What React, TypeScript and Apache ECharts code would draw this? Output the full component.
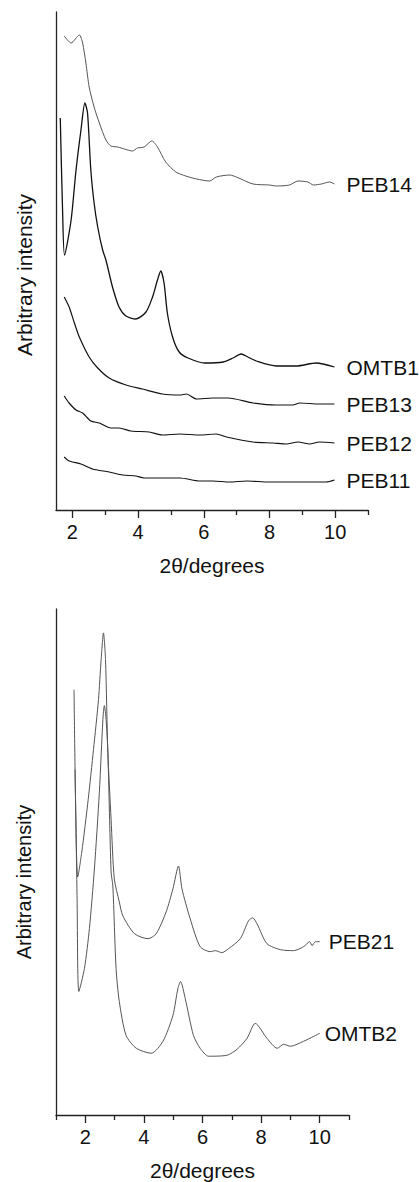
import React, { useEffect, useRef } from "react";
import * as echarts from "echarts";

// ---------- Data (2θ in degrees, arbitrary intensity) ----------
const topMajorTicks = [2, 4, 6, 8, 10];
const topMinorTicks = [3, 5, 7, 9, 11];
const bottomMajorTicks = [2, 4, 6, 8, 10];
const bottomMinorTicks = [1, 3, 5, 7, 9, 11];

const PEB14 = [
  [1.75, 474], [1.96, 467], [2.21, 475], [2.31, 467], [2.41, 447], [2.51, 423], [2.66, 403],
  [2.82, 387], [3.02, 370], [3.17, 364], [3.38, 363], [3.58, 361], [3.83, 359], [3.98, 362],
  [4.18, 363], [4.42, 369], [4.59, 363], [4.84, 348], [5.15, 338], [5.45, 334], [5.78, 331],
  [6.18, 329], [6.38, 333], [6.79, 335], [6.99, 333], [7.5, 326], [8.0, 325], [8.21, 324],
  [8.61, 325], [8.87, 329], [9.17, 328], [9.34, 325], [9.58, 326], [9.83, 328], [9.98, 326],
];
const OMTB1 = [
  [1.63, 392], [1.7, 300], [1.76, 255], [1.96, 290], [2.11, 340], [2.26, 380], [2.38, 407],
  [2.46, 397], [2.56, 340], [2.66, 307], [2.77, 283], [2.92, 260], [3.02, 250], [3.22, 223],
  [3.42, 203], [3.63, 194], [3.93, 191], [4.24, 198], [4.44, 213], [4.59, 230], [4.69, 239],
  [4.79, 227], [4.89, 197], [5.05, 173], [5.25, 158], [5.52, 152], [6.03, 147], [6.59, 148],
  [6.89, 152], [7.14, 156], [7.34, 153], [7.6, 149], [8.21, 144], [8.82, 144], [9.42, 147],
  [9.98, 143],
];
const PEB13 = [
  [1.75, 213], [1.9, 203], [2.06, 187], [2.21, 173], [2.51, 153], [2.77, 142], [3.12, 132],
  [3.63, 125], [4.13, 121], [4.74, 116], [5.27, 115], [5.47, 116], [5.78, 111], [6.28, 112],
  [6.74, 112], [7.5, 107], [8.21, 105], [8.71, 105], [8.92, 107], [9.52, 106], [9.98, 106],
];
const PEB12 = [
  [1.75, 114], [1.9, 107], [2.11, 100], [2.31, 97], [2.56, 89], [2.82, 87], [3.17, 82],
  [3.42, 82], [3.78, 79], [4.34, 78], [4.74, 75], [5.27, 76], [5.88, 75], [6.38, 76],
  [6.69, 73], [7.5, 68], [8.11, 67], [8.51, 66], [8.87, 68], [9.22, 66], [9.52, 68], [9.98, 67],
];
const PEB11 = [
  [1.75, 53], [1.9, 49], [2.26, 46], [2.61, 41], [3.12, 38], [3.53, 35], [3.93, 34],
  [4.18, 32], [4.84, 32], [5.27, 32], [5.88, 29], [6.28, 29], [6.79, 28], [7.3, 29],
  [8.0, 28], [8.61, 28], [9.32, 28], [9.73, 28], [9.98, 30],
];

const PEB21 = [
  [1.615, 427], [1.667, 317], [1.742, 239], [1.88, 264], [2.1, 317], [2.28, 367], [2.45, 417],
  [2.54, 457], [2.62, 484], [2.69, 457], [2.77, 364], [2.88, 297], [2.99, 237], [3.16, 214],
  [3.28, 200], [3.68, 182], [4.14, 177], [4.42, 182], [4.76, 204], [4.99, 227], [5.18, 250],
  [5.3, 227], [5.58, 197], [5.92, 169], [6.26, 164], [6.44, 165], [6.66, 163], [6.89, 167],
  [7.29, 177], [7.57, 195], [7.71, 198], [7.86, 192], [8.2, 172], [8.66, 166], [9.11, 165],
  [9.45, 169], [9.66, 174], [9.74, 170], [9.85, 174], [10.0, 174],
];
const OMTB2 = [
  [1.65, 347], [1.72, 217], [1.78, 124], [1.97, 147], [2.14, 187], [2.31, 247], [2.48, 324],
  [2.6, 397], [2.65, 411], [2.71, 397], [2.77, 364], [2.88, 244], [2.94, 230], [3.05, 147],
  [3.16, 114], [3.39, 80], [3.74, 67], [4.25, 62], [4.65, 74], [4.99, 100], [5.16, 127],
  [5.25, 134], [5.41, 117], [5.69, 80], [5.92, 67], [6.21, 59], [6.84, 60], [7.18, 66],
  [7.52, 77], [7.8, 92], [8.2, 77], [8.55, 67], [8.77, 71], [9.0, 69], [9.45, 74],
  [9.8, 79], [10.0, 82],
];

const Y_NAME = "Arbitrary intensity";
const X_NAME = "2θ/degrees";

const FONT = "Liberation Sans, Arial, sans-serif";
const AXIS_COLOR = "#222";

function xAxisMain(grid: number, min: number, major: number[]) {
  return {
    type: "value",
    gridIndex: grid,
    position: "bottom",
    min,
    max: 11,
    name: X_NAME,
    nameLocation: "middle",
    nameGap: 45,
    nameTextStyle: { fontFamily: FONT, fontSize: 21, color: "#111" },
    axisLine: { show: true, onZero: false, lineStyle: { color: AXIS_COLOR, width: 1.3 } },
    axisTick: { show: true, customValues: major, length: 8, lineStyle: { color: AXIS_COLOR, width: 1.3 } },
    axisLabel: { show: true, customValues: major, margin: 12, fontFamily: FONT, fontSize: 20, color: "#111" },
    splitLine: { show: false },
  };
}
function xAxisMinor(grid: number, min: number, minor: number[]) {
  return {
    type: "value",
    gridIndex: grid,
    position: "bottom",
    offset: 0,
    min,
    max: 11,
    axisLine: { show: false, onZero: false },
    axisTick: { show: true, customValues: minor, length: 5, lineStyle: { color: AXIS_COLOR, width: 1.3 } },
    axisLabel: { show: false },
    splitLine: { show: false },
  };
}
function yAxis(grid: number, max: number) {
  return {
    type: "value",
    gridIndex: grid,
    min: 0,
    max,
    axisLine: { show: true, onZero: false, lineStyle: { color: AXIS_COLOR, width: 1.3 } },
    axisTick: { show: false },
    axisLabel: { show: false },
    splitLine: { show: false },
  };
}
function line(name: string, data: number[][], xi: number, yi: number, color: string, width: number, dist: number) {
  return {
    type: "line",
    name,
    data,
    xAxisIndex: xi,
    yAxisIndex: yi,
    showSymbol: false,
    symbol: "none",
    smooth: 0.25,
    lineStyle: { color, width },
    endLabel: {
      show: true,
      formatter: name,
      distance: dist,
      fontFamily: FONT,
      fontSize: 21,
      color: "#111",
    },
  };
}
function yName(cy: number, size: number) {
  return {
    type: "text",
    x: 24,
    y: cy,
    rotation: Math.PI / 2,
    style: {
      text: Y_NAME,
      fontFamily: FONT,
      fontSize: size,
      fill: "#111",
      align: "center",
      verticalAlign: "middle",
    },
  };
}

export default function App() {
  const ref = useRef<HTMLDivElement>(null);
  useEffect(() => {
    if (!ref.current) return;
    const chart = echarts.init(ref.current, undefined, { renderer: "svg" });
    chart.setOption({
      animation: false,
      backgroundColor: "#fff",
      grid: [
        { left: 56, top: 12, width: 312, height: 498 },
        { left: 56, top: 609, width: 293, height: 508 },
      ],
      xAxis: [
        xAxisMain(0, 1.5, topMajorTicks),
        xAxisMinor(0, 1.5, topMinorTicks),
        xAxisMain(1, 1, bottomMajorTicks),
        xAxisMinor(1, 1, bottomMinorTicks),
      ],
      yAxis: [yAxis(0, 498), yAxis(1, 508)],
      graphic: [yName(275, 21), yName(882, 20)],
      series: [
        line("PEB14", PEB14, 0, 0, "#555", 1, 12),
        line("OMTB1", OMTB1, 0, 0, "#111", 1.3, 12),
        line("PEB13", PEB13, 0, 0, "#111", 1.2, 12),
        line("PEB12", PEB12, 0, 0, "#111", 1.2, 12),
        line("PEB11", PEB11, 0, 0, "#111", 1.2, 12),
        line("PEB21", PEB21, 2, 1, "#555", 1, 9),
        line("OMTB2", OMTB2, 2, 1, "#555", 1, 5),
      ],
    });
    return () => chart.dispose();
  }, []);
  return (
    <div
      ref={ref}
      style={{ position: "absolute", left: 0, top: 0, width: 419, height: 1182, background: "#fff" }}
    />
  );
}
